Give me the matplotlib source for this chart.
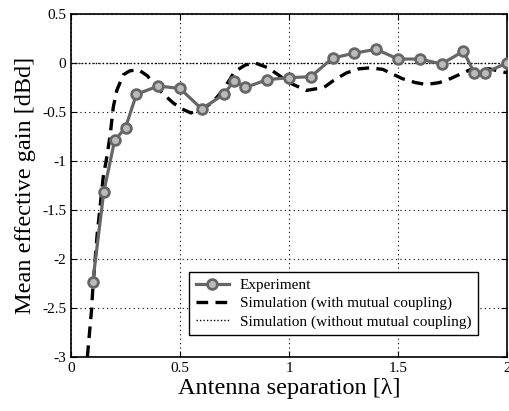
import numpy as np
import matplotlib.pyplot as plt

plt.rcParams['font.family'] = ['Liberation Serif', 'DejaVu Serif']

# measured points
exp_x = [0.10, 0.15, 0.20, 0.25, 0.30, 0.40, 0.50, 0.60, 0.70, 0.75, 0.80, 0.90,
         1.00, 1.10, 1.20, 1.30, 1.40, 1.50, 1.60, 1.70, 1.80, 1.85, 1.90, 2.00]
exp_y = [-2.23, -1.32, -0.79, -0.66, -0.32, -0.235, -0.26, -0.47, -0.32, -0.18, -0.25, -0.17,
         -0.15, -0.14, 0.05, 0.10, 0.14, 0.04, 0.04, -0.01, 0.12, -0.10, -0.10, 0.0]

# simulation with mutual coupling (traced)
sim_x = [0.075, 0.085, 0.095, 0.10, 0.12, 0.148, 0.165, 0.18, 0.194, 0.21, 0.24, 0.27, 0.31,
         0.35, 0.39, 0.43, 0.47, 0.51, 0.55, 0.61, 0.65, 0.70, 0.75, 0.80, 0.845, 0.905,
         0.95, 1.00, 1.08, 1.16, 1.21, 1.265, 1.32, 1.37, 1.43, 1.52, 1.58, 1.63, 1.69,
         1.74, 1.83, 1.92, 2.00]
sim_y = [-3.0, -2.75, -2.5, -2.3, -1.75, -1.16, -0.95, -0.73, -0.45, -0.28, -0.12, -0.08, -0.07,
         -0.13, -0.24, -0.33, -0.41, -0.47, -0.51, -0.46, -0.40, -0.27, -0.09, -0.02, 0.0, -0.05,
         -0.12, -0.20, -0.28, -0.25, -0.17, -0.10, -0.06, -0.05, -0.065, -0.16, -0.20, -0.22, -0.20,
         -0.16, -0.07, -0.06, -0.10]

# simulation without mutual coupling
nomc_x = [0.0, 2.0]
nomc_y = [0.0, 0.0]

fig = plt.figure(figsize=(5.09, 4.11), dpi=100)
ax = fig.add_axes([0.1395, 0.1314, 0.8565, 0.8346])

ax.plot(exp_x, exp_y, color='#666666', lw=2.3, marker='o', ms=7, mfc='#bbbbbb',
        mec='#666666', mew=2, label='Experiment', zorder=4)
ax.plot(sim_x, sim_y, color='black', lw=2.4, ls=(0, (3.5, 2.2)),
        label='Simulation (with mutual coupling)', zorder=3)
ax.plot(nomc_x, nomc_y, color='black', lw=1.0, ls=(0, (1, 1.5)),
        label='Simulation (without mutual coupling)', zorder=2)

ax.set_xlim(0, 2)
ax.set_ylim(-3, 0.5)
ax.set_xticks([0, 0.5, 1, 1.5, 2])
ax.set_xticklabels(['0', '0.5', '1', '1.5', '2'])
ax.set_yticks([-3, -2.5, -2, -1.5, -1, -0.5, 0, 0.5])
ax.set_yticklabels(['-3', '-2.5', '-2', '-1.5', '-1', '-0.5', '0', '0.5'])
ax.grid(True, color='black', ls=(0, (1, 3)), lw=0.8)
ax.tick_params(direction='in', top=True, right=True, labelsize=11, length=4)
for s in ax.spines.values():
    s.set_linewidth(1.2)

ax.set_xlabel('Antenna separation [λ]', fontsize=17.5, labelpad=2)
ax.set_ylabel('Mean effective gain [dBd]', fontsize=17.5, labelpad=4)

leg = ax.legend(loc='lower right', bbox_to_anchor=(0.95, 0.042), fontsize=11,
                fancybox=False, edgecolor='black', framealpha=1, handlelength=2.2,
                borderpad=0.4, labelspacing=0.3, handletextpad=0.7)
leg.get_frame().set_linewidth(1.0)

fig.savefig('out.png', dpi=100)
